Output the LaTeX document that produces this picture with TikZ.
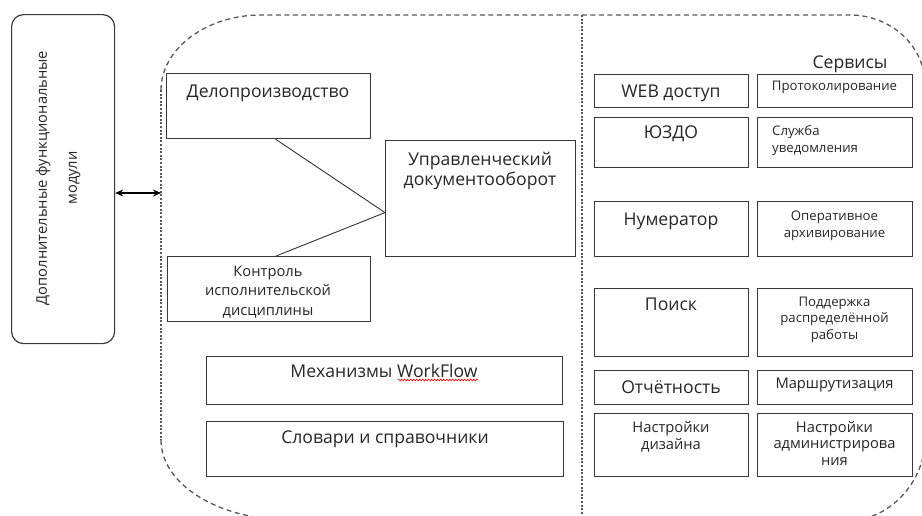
\documentclass[tikz,border=0pt]{standalone}
\usepackage{fontspec}
\setmainfont{Open Sans}
\usetikzlibrary{arrows.meta,decorations.pathmorphing}

\begin{document}
\begin{tikzpicture}[x=1pt,y=-1pt,
  box/.style={draw=black!78, line width=1.2pt, inner sep=0pt, anchor=north west},
  lab/.style={inner sep=0pt, anchor=base, text=black!85, align=center},
  big/.style={lab, font=\fontsize{17.6}{20}\selectfont},
  mid/.style={lab, font=\fontsize{14.7}{19.5}\selectfont},
  small/.style={lab, font=\fontsize{13.2}{16.5}\selectfont},
  cdash/.style={draw=black!65, line width=1.3pt, dash pattern=on 5pt off 3.5pt},
  cdot/.style={draw=black!65, line width=1.5pt, dash pattern=on 2pt off 1.6pt},
  link/.style={draw=black!80, line width=0.9pt},
  both/.style={{Stealth[length=8pt,width=7pt]}-{Stealth[length=8pt,width=7pt]}, line width=1.1pt, draw=black}]

\useasboundingbox (0,0) rectangle (922,515);
\clip (0,0) rectangle (922,515);

% side block with vertical caption
\node[box, rounded corners=12pt, minimum width=103pt, minimum height=329pt] (side) at (11,14) {};
\node[mid, anchor=center, rotate=90, font=\fontsize{14.7}{30}\selectfont] (side-t) at (58,178) {Дополнительные функциональные\\модули};

% outline of the main area
\draw[cdash] (161,90) .. controls (161,49) and (206,15) .. (261,15) -- (850,15)
  .. controls (891,15) and (925,46) .. (925,85);
\draw[cdot] (161,90) -- (161,440);
\draw[cdash] (161,440) .. controls (161,484) and (218,520) .. (290,520);
\draw[cdash] (925,440) .. controls (925,480) and (891,520) .. (850,520);
\draw[cdot] (582,15) -- (582,515);

\coordinate (area-in) at (161,193);
\draw[both] (side.east |- area-in) -- (area-in);

% document flow blocks
\node[box, minimum width=204pt, minimum height=65pt] (delo) at (166,73) {};
\node[big] (delo-t) at (268,97) {Делопроизводство};

\node[box, minimum width=190pt, minimum height=116pt] (upr) at (385,140) {};
\node[big] (upr-t) at (480,185) {Управленческий\\документооборот};

\node[box, minimum width=203pt, minimum height=65pt] (ctrl) at (167,256) {};
\node[mid] (ctrl-t) at (268,315) {Контроль\\исполнительской\\дисциплины};

\draw[link] ([xshift=7pt]delo.south) -- ([yshift=-14pt]upr.west);
\draw[link] ([xshift=7pt]ctrl.north) -- ([yshift=-14pt]upr.west);

\node[box, minimum width=356pt, minimum height=48pt] (wf) at (206,356) {};
\node[big] (wf-t) at (384,377) {Механизмы WorkFlow};
\draw[red, line width=0.6pt, decorate, decoration={snake, amplitude=0.9pt, segment length=3pt}]
  ([xshift=-80pt, yshift=-3pt]wf-t.base east) -- ([yshift=-3pt]wf-t.base east);

\node[box, minimum width=357pt, minimum height=55pt] (dict) at (206,421) {};
\node[big] (dict-t) at (385,443) {Словари и справочники};

% services
\node[big] (serv-t) at (850,68) {Сервисы};

\node[box, minimum width=154pt, minimum height=33pt] (web) at (594,74) {};
\node[big] (web-t) at (671,97) {WEB доступ};
\node[box, minimum width=155pt, minimum height=33pt] (prot) at (757,74) {};
\node[small] (prot-t) at (834.5,90) {Протоколирование};

\node[box, minimum width=154pt, minimum height=50pt] (yuzdo) at (594,117) {};
\node[big] (yuzdo-t) at (671,138) {ЮЗДО};
\node[box, minimum width=155pt, minimum height=50pt] (notif) at (757,117) {};
\node[small, align=left, anchor=base west, font=\fontsize{13.2}{17}\selectfont] (notif-t) at (772,152) {Служба\\уведомления};

\node[box, minimum width=154pt, minimum height=55pt] (num) at (594,201) {};
\node[big] (num-t) at (671,225) {Нумератор};
\node[box, minimum width=155pt, minimum height=55pt] (arch) at (757,201) {};
\node[small, font=\fontsize{13.2}{17}\selectfont] (arch-t) at (834.5,237) {Оперативное\\архивирование};

\node[box, minimum width=154pt, minimum height=68pt] (find) at (594,288) {};
\node[big] (find-t) at (671,310) {Поиск};
\node[box, minimum width=155pt, minimum height=68pt] (dist) at (757,288) {};
\node[small] (dist-t) at (834.5,339) {Поддержка\\распределённой\\работы};

\node[box, minimum width=154pt, minimum height=34pt] (rep) at (594,370) {};
\node[big] (rep-t) at (671,393) {Отчётность};
\node[box, minimum width=155pt, minimum height=34pt] (route) at (757,370) {};
\node[mid] (route-t) at (834.5,388) {Маршрутизация};

\node[box, minimum width=154pt, minimum height=63pt] (design) at (594,413) {};
\node[mid, font=\fontsize{14.7}{17}\selectfont] (design-t) at (671,449) {Настройки\\дизайна};
\node[box, minimum width=155pt, minimum height=63pt] (admin) at (757,413) {};
\node[mid, font=\fontsize{14.7}{16.5}\selectfont] (admin-t) at (834.5,465) {Настройки\\администрирова\\ния};
\end{tikzpicture}
\end{document}
